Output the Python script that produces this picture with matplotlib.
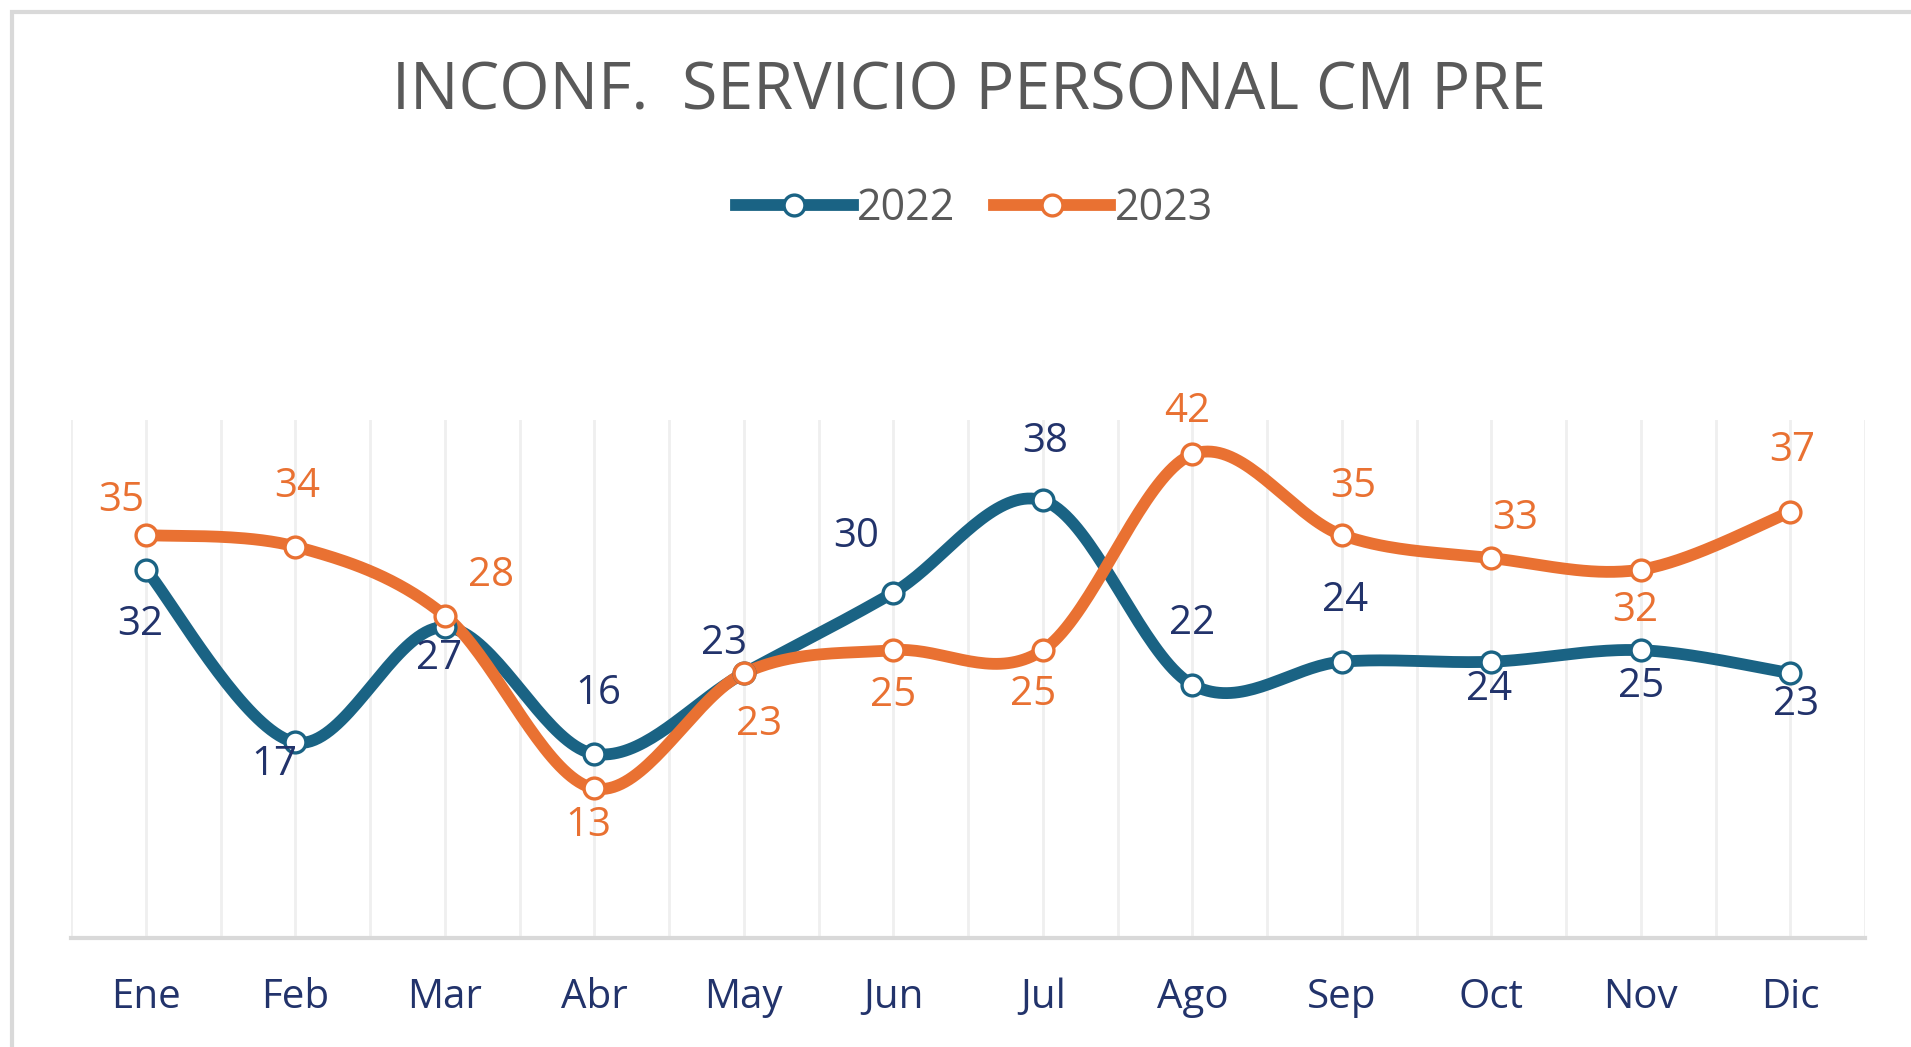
import numpy as np
import matplotlib
matplotlib.use("Agg")
import matplotlib.pyplot as plt
from matplotlib.lines import Line2D
from matplotlib.patches import Rectangle

plt.rcParams["font.family"] = ["Open Sans", "DejaVu Sans"]

months = ["Ene", "Feb", "Mar", "Abr", "May", "Jun", "Jul", "Ago", "Sep", "Oct", "Nov", "Dic"]
vals_2022 = [32, 17, 27, 16, 23, 30, 38, 22, 24, 24, 25, 23]
vals_2023 = [35, 34, 28, 13, 23, 25, 25, 42, 35, 33, 32, 37]

# label offsets in points (dx, dy)
off_2022 = [(-4, -40), (-15, -16), (-4, -23), (3, 43), (-14, 21), (-27, 40), (2, 42),
            (0, 44), (2, 44), (-2, -20), (0, -26), (4, -23)]
off_2023 = [(-18, 25), (1, 43), (33, 29), (-4, -27), (11, -37), (0, -33), (-7, -32),
            (-4, 31), (8, 35), (17, 28), (-4, -30), (1, 44)]

c22 = "#1a6384"
c23 = "#e97132"
lab22 = "#22336b"
tick_col = "#22336b"
grey = "#595959"


def smooth(x, y, n=40):
    # Excel-like smoothed line (Catmull-Rom as Bezier)
    x = np.asarray(x, float)
    y = np.asarray(y, float)
    px = np.concatenate([[x[0]], x, [x[-1]]])
    py = np.concatenate([[y[0]], y, [y[-1]]])
    xs, ys = [], []
    t = np.linspace(0, 1, n)
    for i in range(1, len(px) - 2):
        p0 = np.array([px[i], py[i]])
        p3 = np.array([px[i + 1], py[i + 1]])
        p1 = p0 + (np.array([px[i + 1], py[i + 1]]) - np.array([px[i - 1], py[i - 1]])) / 6
        p2 = p3 - (np.array([px[i + 2], py[i + 2]]) - np.array([px[i], py[i]])) / 6
        b = ((1 - t) ** 3)[:, None] * p0 + (3 * (1 - t) ** 2 * t)[:, None] * p1 \
            + (3 * (1 - t) * t ** 2)[:, None] * p2 + (t ** 3)[:, None] * p3
        xs.extend(b[:, 0])
        ys.extend(b[:, 1])
    return np.array(xs), np.array(ys)


fig = plt.figure(figsize=(19.11, 10.47), dpi=100)
fig.patches.append(Rectangle((12 / 1911, -0.1), 1.2, 1 - 12 / 1047 + 0.1, transform=fig.transFigure,
                             fill=False, edgecolor="#d9d9d9", linewidth=3))

ax = fig.add_axes([0.0372, 0.104, 0.9388, 0.495])
x = np.arange(len(months))

for v in np.arange(-0.5, 12, 0.5):
    ax.axvline(v, color="#efefef", lw=2, zorder=0)

for vals, col, lcol, offs in [(vals_2022, c22, lab22, off_2022), (vals_2023, c23, c23, off_2023)]:
    sx, sy = smooth(x, vals)
    ax.plot(sx, sy, color=col, lw=8.5, solid_capstyle="round", zorder=2)
    ax.plot(x, vals, "o", ms=15, mfc="white", mec=col, mew=2.4, zorder=3)
    for xi, v, (dx, dy) in zip(x, vals, offs):
        ax.annotate(str(v), (xi, v), xytext=(dx, dy), textcoords="offset points",
                    ha="center", va="center", fontsize=29, color=lcol, zorder=4)

ax.set_xlim(-0.5, 11.5)
ax.set_ylim(0, 45)
ax.set_yticks([])
ax.set_xticks(x)
ax.set_xticklabels(months, fontsize=29, color=tick_col)
ax.tick_params(axis="x", length=0, pad=28)
for s in ["top", "left", "right"]:
    ax.spines[s].set_visible(False)
ax.spines["bottom"].set_color("#d9d9d9")
ax.spines["bottom"].set_linewidth(3)

fig.text(0.507, 0.912, "INCONF.  SERVICIO PERSONAL CM PRE", ha="center", va="center",
         fontsize=46.5, color=grey)

handles = [Line2D([], [], color=c22, lw=8.5, marker="o", ms=15, mfc="white", mec=c22, mew=2.4),
           Line2D([], [], color=c23, lw=8.5, marker="o", ms=15, mfc="white", mec=c23, mew=2.4)]
fig.legend(handles, ["2022", "2023"], loc="center", bbox_to_anchor=(0.51, 0.801), ncol=2,
           frameon=False, fontsize=31, labelcolor=grey, handlelength=2.7, handletextpad=0.1,
           columnspacing=0.9)

fig.savefig("out.png", dpi=100)
